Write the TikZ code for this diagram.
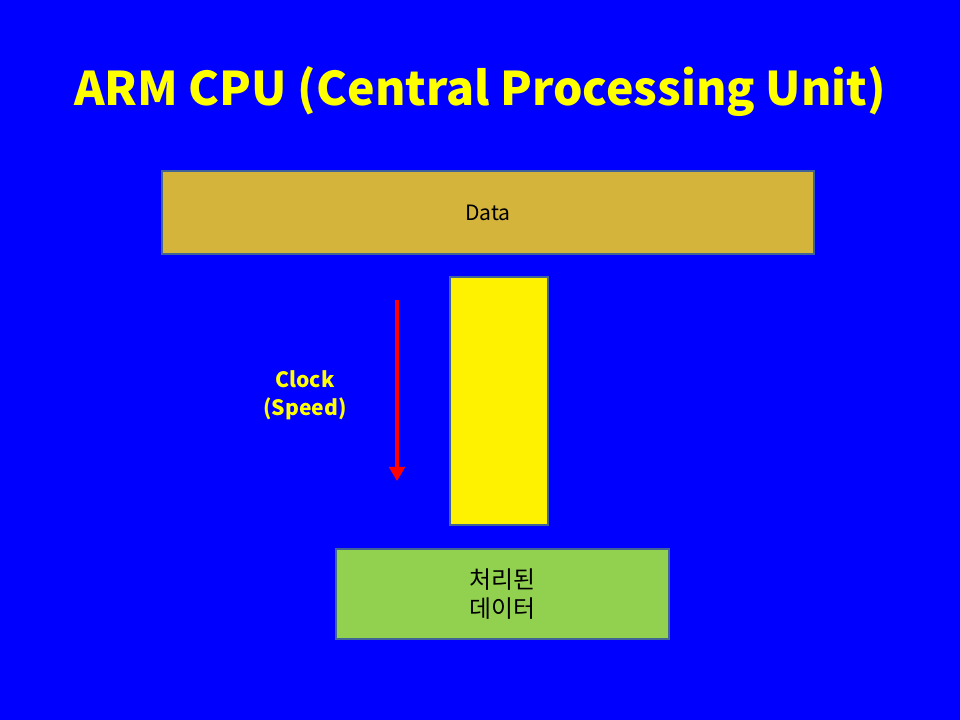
\documentclass[tikz,border=0pt]{standalone}
\usepackage{fontspec}
\setmainfont{Noto Sans CJK KR}
\usepackage{tikz}
\usetikzlibrary{arrows.meta}
\definecolor{Fondo}{RGB}{0, 0, 255}
\definecolor{Titulo}{RGB}{255, 255, 0}
\definecolor{Borde}{RGB}{65, 100, 150}
\definecolor{Dato}{RGB}{212, 180, 58}
\definecolor{Reloj}{RGB}{255, 0, 0}
\definecolor{Salida}{RGB}{146, 208, 80}

\begin{document}
\begin{tikzpicture}[x=0.025cm, y=-0.025cm,
    caja/.style={draw=Borde, line width=1.5pt, inner sep=0pt, align=center, text=black}]
   	%Fondo azul de la diapositiva
   	\fill[color=Fondo] (0, 0) rectangle (960, 720);
   	\useasboundingbox (0, 0) rectangle (960, 720);

	%Titulo
   	\node[text=Titulo, font=\fontsize{33}{40}\selectfont\bfseries] (titulo) at (480, 92)
   		{ARM CPU (Central Processing Unit)};

	%Caja de datos superior
   	\node[caja, fill=Dato, minimum width=16.3cm, minimum height=2.07cm,
   		font=\fontsize{15}{18}\selectfont] (data) at (488, 212.5) {Data};

	%Barra amarilla (CPU)
   	\node[caja, fill=yellow, minimum width=2.45cm, minimum height=6.2cm] (cpu) at (499, 401) {};

	%Reloj: flecha roja y texto
   	\coordinate (relojA) at (397, 300);
   	\coordinate (relojB) at (397, 481);
   	\draw[color=Reloj, line width=3.5pt, -{Triangle[width=11pt, length=10pt]}] (relojA) -- (relojB);
   	\node[align=center, text=Titulo, font=\fontsize{15}{20}\selectfont\bfseries] (reloj) at (305, 395)
   		{Clock\\(Speed)};

	%Caja de datos procesados
   	\node[caja, fill=Salida, minimum width=8.32cm, minimum height=2.25cm,
   		font=\fontsize{17}{20}\selectfont] (salida) at (502.5, 594) {처리된\\데이터};
\end{tikzpicture}
\end{document}
